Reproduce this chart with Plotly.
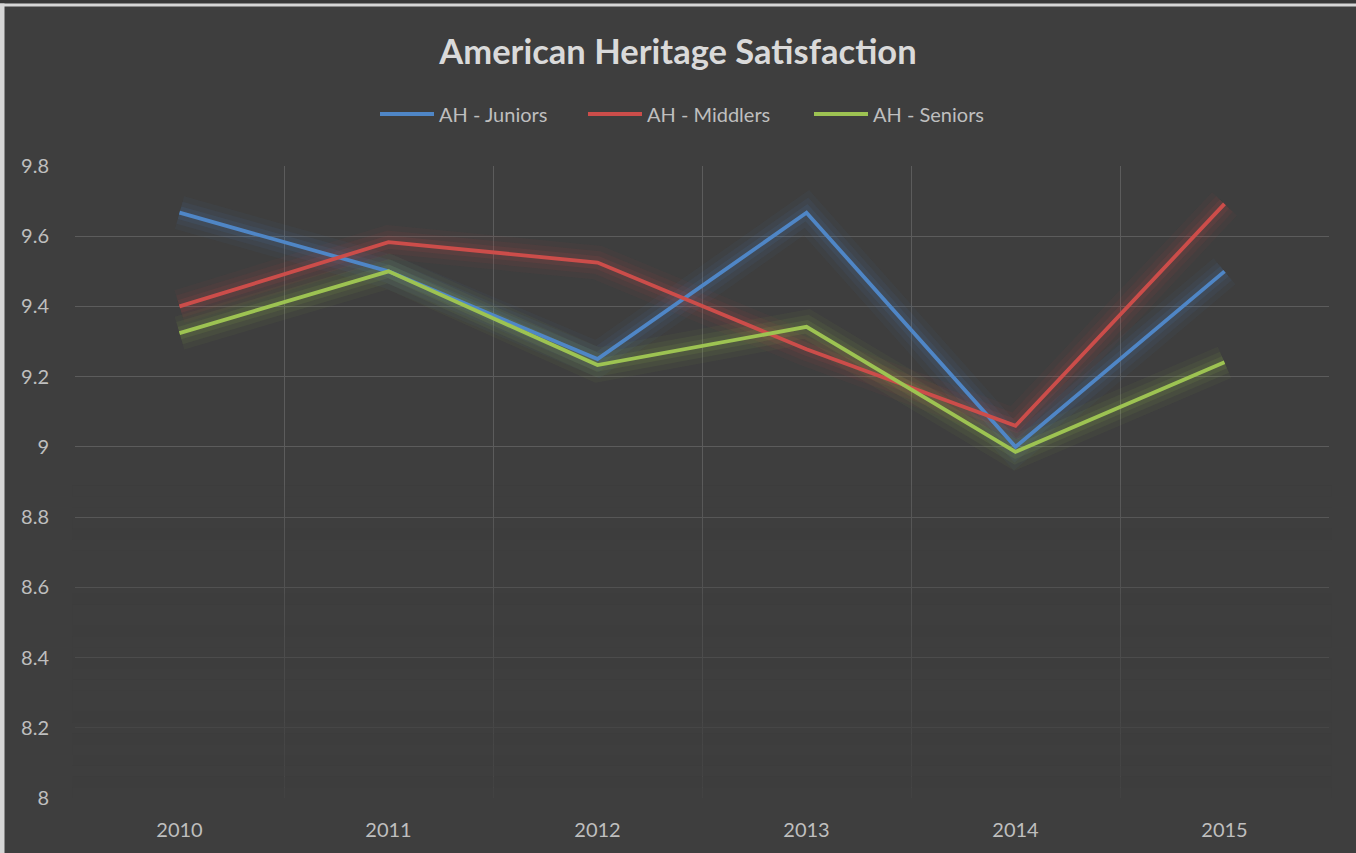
import plotly.graph_objects as go

years = [2010, 2011, 2012, 2013, 2014, 2015]
juniors = [9.667, 9.5, 9.25, 9.667, 9.0, 9.5]
middlers = [9.4, 9.583, 9.525, 9.278, 9.06, 9.692]
seniors = [9.324, 9.5, 9.233, 9.342, 8.986, 9.241]

series = [
    ("AH - Juniors", juniors, "#4F86C6", "79,134,198"),
    ("AH - Middlers", middlers, "#CC4D4A", "204,77,74"),
    ("AH - Seniors", seniors, "#9DC352", "157,195,82"),
]

y_ticks = [8, 8.2, 8.4, 8.6, 8.8, 9, 9.2, 9.4, 9.6, 9.8]
y_labels = ["8", "8.2", "8.4", "8.6", "8.8", "9", "9.2", "9.4", "9.6", "9.8"]

BG = "#3E3E3E"
FONT = "Lato"
TXT = "#BFBFBF"

W, H = 1356, 853
ML, MR, MT, MB = 75, 27, 166, 55
PW, PH = W - ML - MR, H - MT - MB

fig = go.Figure()

# soft glow under each line
for name, vals, col, rgb in series:
    for w, a in [(34, 0.05), (23, 0.07), (13, 0.10)]:
        fig.add_trace(go.Scatter(
            x=years, y=vals, mode="lines", showlegend=False, hoverinfo="skip",
            line=dict(color=f"rgba({rgb},{a})", width=w),
        ))

for name, vals, col, rgb in series:
    fig.add_trace(go.Scatter(
        x=years, y=vals, mode="lines", name=name, showlegend=False,
        line=dict(color=col, width=3.8),
    ))


def px_x(px):
    return (px - ML) / PW


def px_y(py):
    return (H - MB - py) / PH


shapes = []
annotations = []

# gridlines fade out towards the bottom of the plot area (below the data)
n_bands = 30
fade_top = 8.92
for i in range(n_bands):
    y0 = 8.0 + (fade_top - 8.0) * i / n_bands
    y1 = 8.0 + (fade_top - 8.0) * (i + 1) / n_bands
    op = 0.88 * (1 - (i + 0.5) / n_bands) ** 0.8
    shapes.append(dict(
        type="rect", xref="paper", yref="y", x0=-0.002, x1=1.002, y0=y0, y1=y1,
        fillcolor=BG, opacity=op, line=dict(width=0), layer="above",
    ))

# legend row: short line sample followed by the series name
legend_x = [380, 588, 814]
legend_y = 114
for (name, vals, col, rgb), lx in zip(series, legend_x):
    shapes.append(dict(
        type="line", xref="paper", yref="paper",
        x0=px_x(lx), x1=px_x(lx + 54), y0=px_y(legend_y), y1=px_y(legend_y),
        line=dict(color=col, width=4), layer="above",
    ))
    annotations.append(dict(
        text=name, xref="paper", yref="paper", x=px_x(lx + 57), y=px_y(legend_y),
        xanchor="left", yanchor="middle", showarrow=False,
        font=dict(family=FONT, size=20, color=TXT),
    ))

# outer frame edges
shapes += [
    dict(type="rect", xref="paper", yref="paper", x0=px_x(0), x1=px_x(W),
         y0=px_y(0), y1=px_y(3.5), fillcolor="#383838", line=dict(width=0), layer="above"),
    dict(type="rect", xref="paper", yref="paper", x0=px_x(0), x1=px_x(W),
         y0=px_y(3.5), y1=px_y(6.5), fillcolor="#D6D6D6", line=dict(width=0), layer="above"),
    dict(type="rect", xref="paper", yref="paper", x0=px_x(0), x1=px_x(4.5),
         y0=px_y(3.5), y1=px_y(H), fillcolor="#D6D6D6", line=dict(width=0), layer="above"),
]

fig.update_layout(
    width=W, height=H,
    paper_bgcolor=BG, plot_bgcolor=BG,
    margin=dict(l=ML, r=MR, t=MT, b=MB),
    font=dict(family=FONT, color=TXT, size=20),
    title=dict(
        text="<b>American Heritage Satisfaction</b>",
        x=0.5, xanchor="center", xref="container",
        y=1 - 52 / H, yanchor="middle", yref="container",
        font=dict(family=FONT, size=34.5, color="#DADADA"),
    ),
    shapes=shapes,
    annotations=annotations,
    showlegend=False,
)

fig.update_xaxes(
    type="linear", range=[2009.5, 2015.5],
    tickmode="array", tickvals=years, ticktext=[str(y) for y in years],
    showgrid=False, zeroline=False, showline=False,
    ticks="outside", ticklen=14, tickcolor="rgba(0,0,0,0)",
    tickfont=dict(family=FONT, size=20, color=TXT),
    minor=dict(tickmode="array", tickvals=[y - 0.5 for y in years] + [2015.5],
               showgrid=True, gridcolor="#5C5C5C", gridwidth=1.4, ticks=""),
)
fig.update_yaxes(
    range=[8, 9.8], tickmode="array", tickvals=y_ticks, ticktext=y_labels,
    showgrid=True, gridcolor="#5C5C5C", gridwidth=1.4,
    zeroline=False, showline=False,
    ticks="outside", ticklen=21, tickcolor="rgba(0,0,0,0)",
    tickfont=dict(family=FONT, size=20, color=TXT),
)

fig.write_html("out.html")
